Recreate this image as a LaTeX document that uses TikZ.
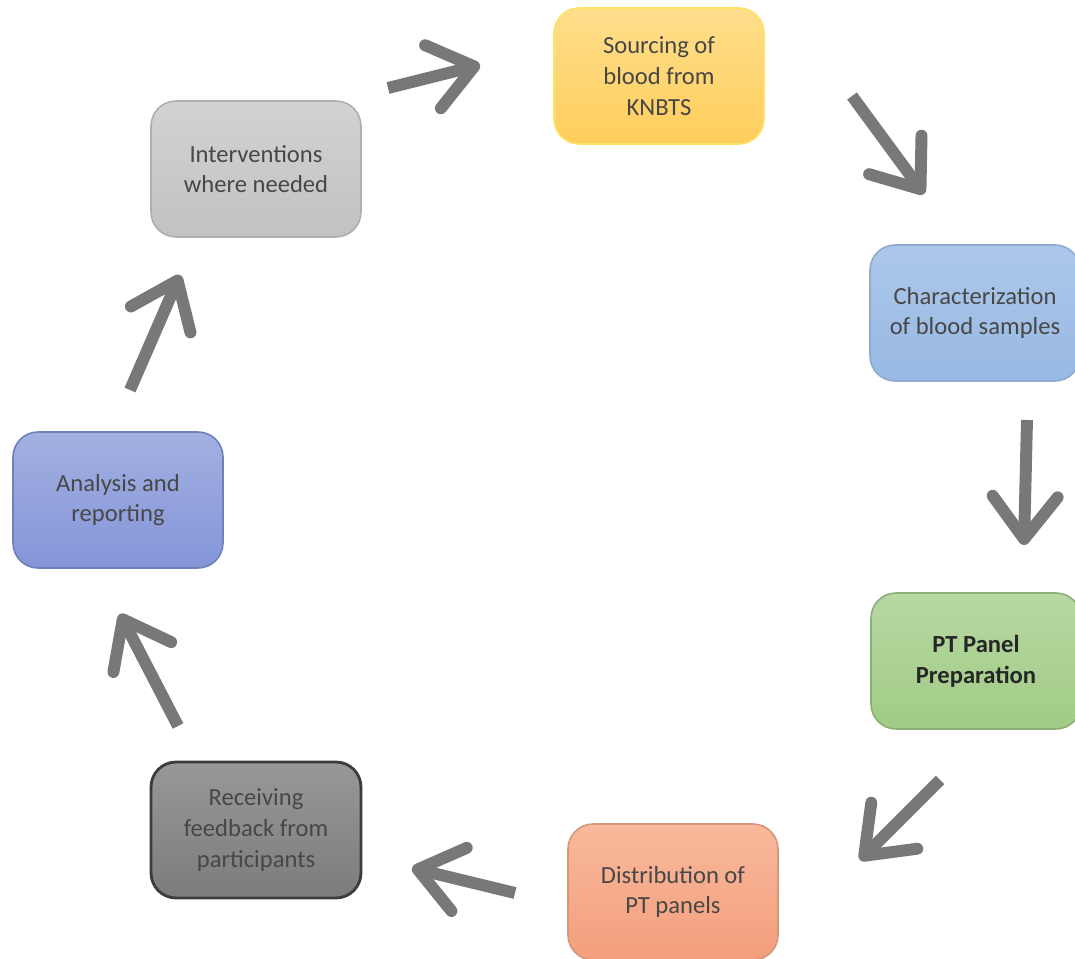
\documentclass[tikz,border=0pt]{standalone}
\usepackage{fontspec}
\setmainfont{Carlito}
\usetikzlibrary{arrows.meta}

\definecolor{txtgray}{HTML}{474747}
\definecolor{arrgray}{HTML}{787878}

\begin{document}
\begin{tikzpicture}[x=0.02cm, y=-0.02cm,
   stage/.style={rounded corners=0.5cm, minimum width=4.2cm, minimum height=2.72cm,
      align=center, text=txtgray, line width=0.9pt, font=\fontsize{14}{17.5}\selectfont},
   cycarrow/.style={draw=arrgray, line width=6.8pt,
      -{Straight Barb[length=0.85cm, width=1.3cm, round]}}]
   \useasboundingbox (0,0) rectangle (1075,959);

   % the seven stages
   \node[stage, draw=yellow!70!orange!60, top color={rgb,255:red,255;green,222;blue,140},
         bottom color={rgb,255:red,255;green,206;blue,92}] (sourcing) at (659,76)
         {Sourcing of\\blood from\\KNBTS};
   \node[stage, draw={rgb,255:red,143;green,170;blue,208}, top color={rgb,255:red,172;green,199;blue,234},
         bottom color={rgb,255:red,152;green,185;blue,227}] (charact) at (975,313)
         {Characterization\\of blood samples};
   \node[stage, draw={rgb,255:red,139;green,174;blue,119}, top color={rgb,255:red,182;green,216;blue,162},
         bottom color={rgb,255:red,161;green,203;blue,134}, font=\fontsize{14}{17.5}\selectfont\bfseries,
         text=black!85] (panel) at (976,661)
         {PT Panel\\Preparation};
   \node[stage, draw={rgb,255:red,214;green,150;blue,122}, top color={rgb,255:red,249;green,185;blue,156},
         bottom color={rgb,255:red,243;green,158;blue,124}] (distrib) at (673,892)
         {Distribution of\\PT panels};
   \node[stage, draw={rgb,255:red,60;green,60;blue,60}, line width=1.6pt,
         top color={rgb,255:red,152;green,152;blue,152},
         bottom color={rgb,255:red,124;green,124;blue,124}] (feedback) at (256,830)
         {Receiving\\feedback from\\participants};
   \node[stage, draw={rgb,255:red,112;green,128;blue,184}, top color={rgb,255:red,163;green,176;blue,226},
         bottom color={rgb,255:red,132;green,149;blue,216}] (analysis) at (118,500)
         {Analysis and\\reporting};
   \node[stage, draw={rgb,255:red,175;green,175;blue,175}, top color={rgb,255:red,210;green,210;blue,210},
         bottom color={rgb,255:red,194;green,194;blue,194}] (interv) at (256,169)
         {Interventions\\where needed};

   % arrow ends between the stages
   \coordinate (a1s) at (388,88);   \coordinate (a1e) at (480,65);
   \coordinate (a2s) at (852,96);   \coordinate (a2e) at (924,194);
   \coordinate (a3s) at (1027,420); \coordinate (a3e) at (1024,545);
   \coordinate (a4s) at (940,780);  \coordinate (a4e) at (860,860);
   \coordinate (a5s) at (515,893);  \coordinate (a5e) at (412,868);
   \coordinate (a6s) at (178,726);  \coordinate (a6e) at (120,614);
   \coordinate (a7s) at (130,390);  \coordinate (a7e) at (180,275);

   \draw[cycarrow] (a1s) -- (a1e);
   \draw[cycarrow] (a2s) -- (a2e);
   \draw[cycarrow] (a3s) -- (a3e);
   \draw[cycarrow] (a4s) -- (a4e);
   \draw[cycarrow] (a5s) -- (a5e);
   \draw[cycarrow] (a6s) -- (a6e);
   \draw[cycarrow] (a7s) -- (a7e);

\end{tikzpicture}
\end{document}
